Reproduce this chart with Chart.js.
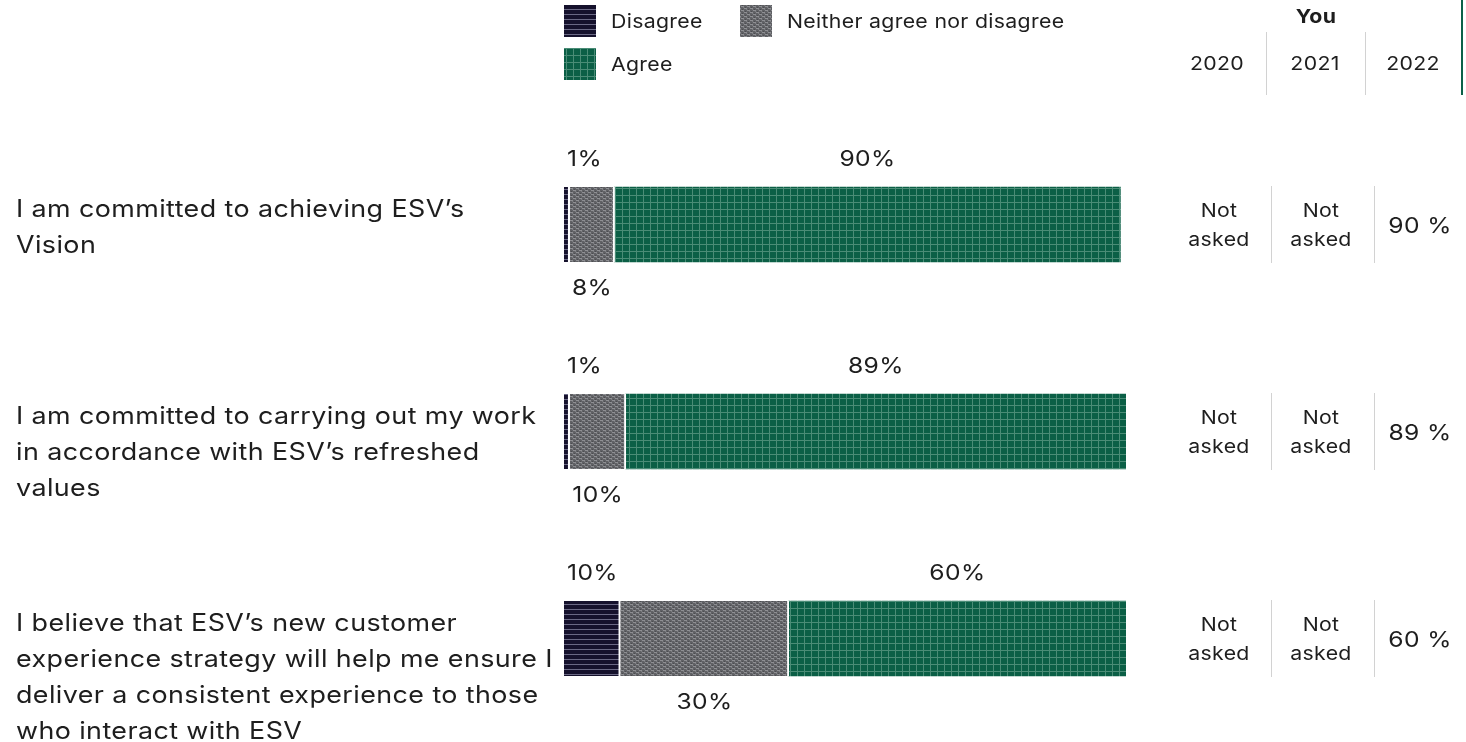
<!DOCTYPE html>
<html>
<head>
<meta charset="utf-8">
<script src="https://cdn.jsdelivr.net/npm/chart.js@4/dist/chart.umd.min.js"></script>
<style>
  html, body { margin: 0; padding: 0; background: #fff; }
  #wrap { position: relative; width: 1466px; height: 742px; }
</style>
</head>
<body>
<div id="wrap"><canvas id="c" width="1466" height="742"></canvas></div>
<script>
// Survey statements (pre-wrapped lines)
const categories = [
  ["I am committed to achieving ESV’s", "Vision"],
  ["I am committed to carrying out my work", "in accordance with ESV’s refreshed", "values"],
  ["I believe that ESV’s new customer", "experience strategy will help me ensure I", "deliver a consistent experience to those", "who interact with ESV"]
];
const seriesNames = ["Disagree", "Neither agree nor disagree", "Agree"];
const disagree = [1, 1, 10];
const neither = [8, 10, 30];
const agree = [90, 89, 60];

// Trend table: earlier years were not asked
const tableTitle = "You";
const years = ["2020", "2021", "2022"];
const result2020 = [null, null, null];
const result2021 = [null, null, null];
const result2022 = agree;

const FONT = "Inter, 'Noto Sans', sans-serif";
const TEXT = "#1e1e1e";
const WIDEN = 1.12; // horizontal stretch for a rounder, wider letterform

function setFont(ctx, size, weight) {
  ctx.font = (weight ? weight + " " : "") + size + "px " + FONT;
  ctx.letterSpacing = (size * 0.015).toFixed(2) + "px";
}
function textWidth(ctx, txt) {
  return ctx.measureText(txt).width * WIDEN;
}
// Draw text stretched horizontally around its anchor point
function drawText(ctx, txt, x, y) {
  ctx.save();
  ctx.translate(x, y);
  ctx.scale(WIDEN, 1);
  ctx.fillText(txt, 0, 0);
  ctx.restore();
}

// Fill textures
function makePattern(w, h, paint) {
  const c = document.createElement("canvas");
  c.width = w; c.height = h;
  const g = c.getContext("2d");
  paint(g);
  return g.createPattern(c, "repeat");
}
const disagreeFill = makePattern(1, 5, g => {
  g.fillStyle = "#15112c"; g.fillRect(0, 0, 1, 5);
  g.fillStyle = "#6a6884"; g.fillRect(0, 4, 1, 1);
});
const agreeFill = makePattern(7, 7, g => {
  g.fillStyle = "#0b5f46"; g.fillRect(0, 0, 7, 7);
  g.fillStyle = "#4a8c76"; g.fillRect(0, 6, 7, 1); g.fillRect(6, 0, 1, 7);
});
const neitherFill = makePattern(6, 4, g => {
  g.fillStyle = "#606165"; g.fillRect(0, 0, 6, 4);
  g.fillStyle = "#8e8f93";
  g.fillRect(0, 0, 3, 1); g.fillRect(3, 2, 3, 1);
  g.fillStyle = "#4c4d51";
  g.fillRect(4, 1, 1, 1); g.fillRect(1, 3, 1, 1);
  g.fillStyle = "#7a7b7f";
  g.fillRect(2, 1, 1, 1); g.fillRect(5, 3, 1, 1);
});
const fills = [disagreeFill, neitherFill, agreeFill];

const overlay = {
  id: "overlay",
  afterDatasetsDraw(chart) {
    const ctx = chart.ctx;
    const area = chart.chartArea;
    ctx.save();
    ctx.fillStyle = TEXT;
    ctx.textBaseline = "middle";

    // Legend
    const legendItems = [
      { x: 564, y: 5, label: seriesNames[0], fill: fills[0] },
      { x: 740, y: 5, label: seriesNames[1], fill: fills[1] },
      { x: 564, y: 48, label: seriesNames[2], fill: fills[2] }
    ];
    setFont(ctx, 19);
    ctx.textAlign = "left";
    legendItems.forEach(it => {
      ctx.fillStyle = it.fill;
      ctx.fillRect(it.x, it.y, 32, 32);
      ctx.fillStyle = TEXT;
      drawText(ctx, it.label, it.x + 47, it.y + 17);
    });

    // Table header
    ctx.textAlign = "center";
    setFont(ctx, 19, "bold");
    drawText(ctx, tableTitle, 1316, 17);
    setFont(ctx, 19);
    const headX = [1217, 1315, 1413];
    years.forEach((y, i) => drawText(ctx, y, headX[i], 64));
    ctx.strokeStyle = "#d2d2d2";
    ctx.lineWidth = 1;
    [1266.5, 1365.5].forEach(x => {
      ctx.beginPath(); ctx.moveTo(x, 32); ctx.lineTo(x, 95); ctx.stroke();
    });
    ctx.strokeStyle = "#0b6148";
    ctx.lineWidth = 2;
    ctx.beginPath(); ctx.moveTo(1462, 0); ctx.lineTo(1462, 95); ctx.stroke();

    const bars = chart.getDatasetMeta(0).data;
    bars.forEach((bar, j) => {
      const top = bar.y - bar.height / 2;
      const bottom = bar.y + bar.height / 2;

      // Statement text, top-aligned with the bar
      ctx.fillStyle = TEXT;
      ctx.textAlign = "left";
      setFont(ctx, 24);
      categories[j].forEach((line, k) => drawText(ctx, line, 16, top + 23 + k * 36));

      // Segment value labels
      setFont(ctx, 22);
      ctx.textAlign = "center";
      chart.data.datasets.forEach((ds, i) => {
        const el = chart.getDatasetMeta(i).data[j];
        const v = ds.data[j];
        const txt = v + "%";
        const w = textWidth(ctx, txt);
        let cx = (el.x + el.base) / 2;
        cx = Math.max(cx, area.left + w / 2 + 3);
        const ly = i === 1 ? bottom + 26 : top - 28;
        drawText(ctx, txt, cx, ly);
      });

      // Trend table cells
      const cellX = [1219, 1321, 1420];
      ctx.strokeStyle = "#d2d2d2";
      ctx.lineWidth = 1;
      [1271.5, 1374.5].forEach(x => {
        ctx.beginPath(); ctx.moveTo(x, top - 1); ctx.lineTo(x, bottom + 1); ctx.stroke();
      });
      [result2020, result2021, result2022].forEach((col, c) => {
        const v = col[j];
        if (v === null) {
          setFont(ctx, 19);
          drawText(ctx, "Not", cellX[c], bar.y - 13);
          drawText(ctx, "asked", cellX[c], bar.y + 16);
        } else {
          setFont(ctx, 22);
          drawText(ctx, v + " %", cellX[c], bar.y + 2);
        }
      });
    });
    ctx.restore();
  }
};

new Chart(document.getElementById("c"), {
  type: "bar",
  data: {
    labels: categories,
    datasets: [
      { label: seriesNames[0], data: disagree, backgroundColor: disagreeFill },
      { label: seriesNames[1], data: neither, backgroundColor: neitherFill },
      { label: seriesNames[2], data: agree, backgroundColor: agreeFill }
    ].map((d, i) => Object.assign(d, {
      barThickness: 75,
      borderColor: "#ffffff",
      borderWidth: i < 2 ? { right: 2, left: 0, top: 0, bottom: 0 } : 0,
      borderSkipped: false
    }))
  },
  options: {
    indexAxis: "y",
    responsive: false,
    animation: false,
    devicePixelRatio: 1,
    layout: { padding: { left: 564, right: 340, top: 121, bottom: 0 } },
    scales: {
      x: { stacked: true, min: 0, max: 100, display: false },
      y: { stacked: true, display: false }
    },
    plugins: { legend: { display: false }, tooltip: { enabled: false } }
  },
  plugins: [overlay]
});
</script>
</body>
</html>
